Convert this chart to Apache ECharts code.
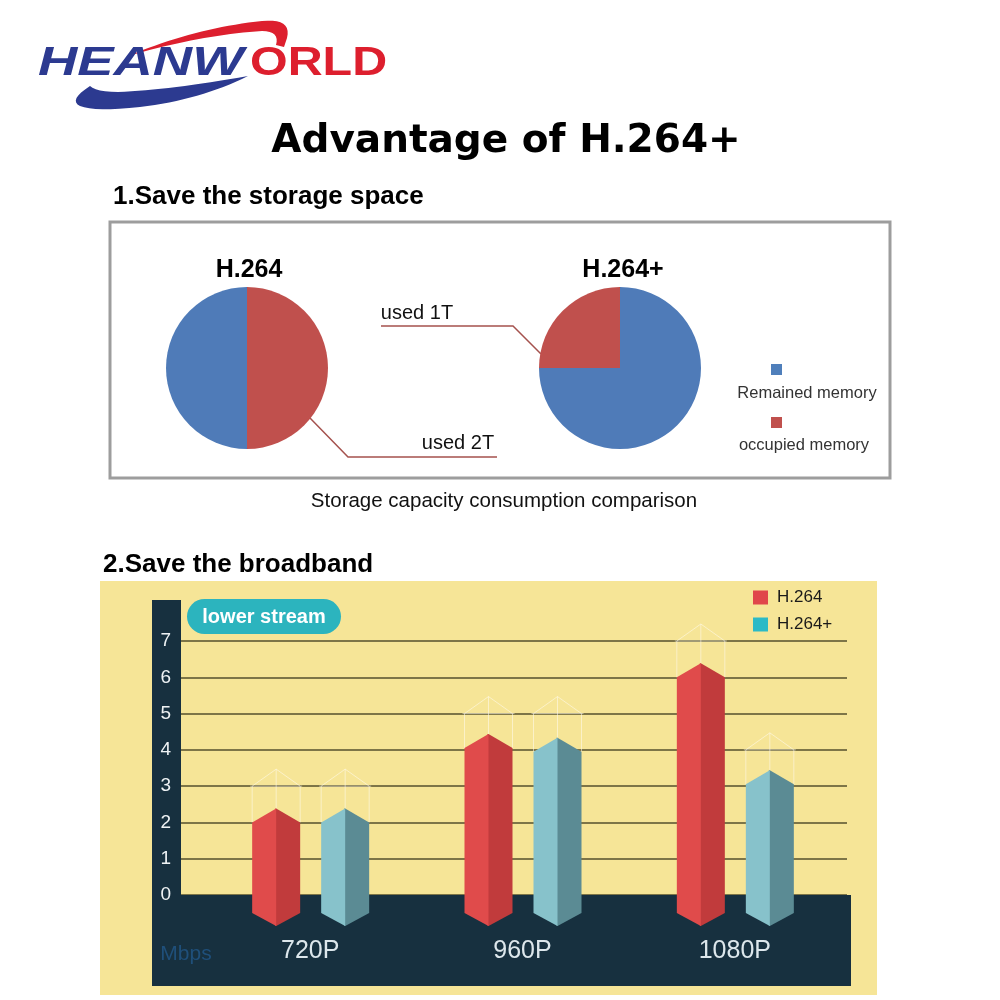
<!DOCTYPE html>
<html>
<head>
<meta charset="utf-8">
<script src="https://cdn.jsdelivr.net/npm/echarts@6/dist/echarts.min.js"></script>
<style>
  html, body { margin: 0; padding: 0; background: #ffffff; }
  #chart { width: 1000px; height: 1000px; }
</style>
</head>
<body>
<div id="chart"></div>
<script>
// ---------- data ----------
const pieNames = ['occupied memory', 'Remained memory'];
const pieH264 = [2, 2];          // TB used / remaining with H.264
const pieH264Plus = [1, 3];      // TB used / remaining with H.264+
const pieLabels = ['used 2T', 'used 1T'];
const pieTitles = ['H.264', 'H.264+'];

const categories = ['720P', '960P', '1080P'];
const seriesNames = ['H.264', 'H.264+'];
const h264Mbps = [2.0, 4.05, 6.0];
const h264PlusMbps = [2.0, 3.95, 3.05];
const h264Ghost = [3, 5, 7];
const h264PlusGhost = [3, 5, 4];
const yMin = 0, yMax = 7, yStep = 1;

// ---------- styles ----------
const FONT = '"Liberation Sans", Arial, sans-serif';
const PIE_RED = '#c0504d';
const PIE_BLUE = '#4f7bb8';
const LEG_RED = '#e0474a';
const LEG_CYAN = '#2cbac6';

// sample a quadratic curve (logo decoration only)
function quad(p0, p1, p2, n) {
  const pts = [];
  for (let i = 0; i <= n; i++) {
    const t = i / n, u = 1 - t;
    pts.push([u * u * p0[0] + 2 * u * t * p1[0] + t * t * p2[0],
              u * u * p0[1] + 2 * u * t * p1[1] + t * t * p2[1]]);
  }
  return pts;
}
const redSwoosh = [].concat(
  quad([128, 56], [195, 28], [262, 21], 20),
  quad([262, 21], [292, 18], [287, 38], 10),
  [[284, 47], [276, 45]],
  quad([276, 45], [280, 31], [262, 31], 8),
  quad([262, 31], [200, 35], [128, 56], 20)
);
const blueSwoosh = [].concat(
  quad([248, 76], [170, 90], [118, 92], 16),
  quad([118, 92], [96, 92], [90, 86], 6),
  quad([90, 86], [68, 100], [80, 106], 8),
  quad([80, 106], [95, 112], [140, 107], 8),
  quad([140, 107], [200, 100], [248, 76], 16)
);

function prism(offset, leftCol, rightCol) {
  return function (params, api) {
    const idx = api.value(0), v = api.value(1), g = api.value(2);
    const c = api.coord([idx, v]);
    const c0 = api.coord([idx, 0]);
    const cg = api.coord([idx, g]);
    const hw = 24;
    const xc = c[0] + offset, xl = xc - hw, xr = xc + hw;
    const yT = c[1], yA = yT - 14;
    const yBs = c0[1] + 18, yBa = c0[1] + 31;
    const gS = cg[1], gA = gS - 17;
    const gst = { stroke: 'rgba(255,252,240,0.55)', lineWidth: 1, fill: null };
    return {
      type: 'group',
      children: [
        { type: 'polyline', shape: { points: [[xl, gS], [xc, gA], [xr, gS]] }, style: gst },
        { type: 'line', shape: { x1: xl - 2, y1: gS, x2: xr + 2, y2: gS }, style: gst },
        { type: 'line', shape: { x1: xl, y1: gS, x2: xl, y2: yT }, style: gst },
        { type: 'line', shape: { x1: xc, y1: gA, x2: xc, y2: yA }, style: gst },
        { type: 'line', shape: { x1: xr, y1: gS, x2: xr, y2: yT }, style: gst },
        { type: 'polygon', shape: { points: [[xc - 1, yA], [xc, yA], [xr, yT], [xr, yBs], [xc, yBa], [xc - 1, yBa]] }, style: { fill: rightCol } },
        { type: 'polygon', shape: { points: [[xl, yT], [xc, yA], [xc, yBa], [xl, yBs]] }, style: { fill: leftCol } }
      ]
    };
  };
}

function pieData(vals, labelText) {
  return vals.map((v, i) => ({
    name: pieNames[i],
    value: v,
    itemStyle: { color: i === 0 ? PIE_RED : PIE_BLUE },
    label: { show: i === 0, formatter: labelText },
    labelLine: { show: i === 0 }
  }));
}

function txt(x, y, text, font, fill, align, extra) {
  return Object.assign({
    type: 'text', z: 6, x: x, y: y,
    style: { text: text, font: font, fill: fill, align: align || 'center', verticalAlign: 'middle' }
  }, extra || {});
}

const chart = echarts.init(document.getElementById('chart'), null, { renderer: 'canvas' });

const option = {
  backgroundColor: '#ffffff',
  animation: false,
  legend: {
    data: [
      { name: seriesNames[0], itemStyle: { color: LEG_RED } },
      { name: seriesNames[1], itemStyle: { color: LEG_CYAN } }
    ],
    orient: 'vertical',
    left: 753, top: 589,
    itemWidth: 15, itemHeight: 14, itemGap: 10,
    icon: 'rect',
    padding: 0,
    z: 6,
    selectedMode: false,
    textStyle: { fontSize: 17, color: '#1a1a1a', fontFamily: FONT, padding: [0, 0, 0, 4] }
  },
  grid: [
    { left: 181, right: 153, top: 641, bottom: 105 },
    { left: 204, right: 159, top: 641, bottom: 105 }
  ],
  xAxis: [
    { type: 'value', gridIndex: 0, show: false, min: 0, max: 1 },
    {
      type: 'category', gridIndex: 1, data: categories, z: 5,
      axisLine: { show: false }, axisTick: { show: false }, splitLine: { show: false },
      axisLabel: { color: '#dde7ec', fontSize: 25, fontFamily: FONT, margin: 44 }
    }
  ],
  yAxis: [
    {
      type: 'value', gridIndex: 0, min: yMin, max: yMax, interval: yStep, z: 1,
      axisLine: { show: false }, axisTick: { show: false }, axisLabel: { show: false },
      splitLine: { show: true, lineStyle: { color: '#554f2c', width: 1.5 } }
    },
    {
      type: 'value', gridIndex: 0, position: 'left', min: yMin, max: yMax, interval: yStep, z: 5,
      axisLine: { show: false }, axisTick: { show: false }, splitLine: { show: false },
      axisLabel: { color: '#eef2f4', fontSize: 19, fontFamily: FONT, margin: 10 },
      name: 'Mbps', nameLocation: 'start', nameGap: 49,
      nameTextStyle: { color: '#1f4f7a', fontSize: 21, fontFamily: FONT, padding: [0, 0, 0, 10] }
    },
    { type: 'value', gridIndex: 1, min: yMin, max: yMax, show: false }
  ],
  series: [
    {
      type: 'pie', name: pieTitles[0], center: [247, 368], radius: 81,
      startAngle: 90, clockwise: true, silent: true, z: 2,
      data: pieData(pieH264, pieLabels[0]),
      itemStyle: { borderWidth: 0 },
      label: { color: '#111', fontSize: 20, fontFamily: FONT },
      labelLine: { lineStyle: { color: '#a5524e', width: 1.5 } },
      labelLayout: function () {
        return { x: 458, y: 443, align: 'center', verticalAlign: 'middle',
          labelLinePoints: [[310, 418], [348, 457], [497, 457]] };
      },
      emphasis: { disabled: true }
    },
    {
      type: 'pie', name: pieTitles[1], center: [620, 368], radius: 81,
      startAngle: 90, clockwise: false, silent: true, z: 2,
      data: pieData(pieH264Plus, pieLabels[1]),
      itemStyle: { borderWidth: 0 },
      label: { color: '#111', fontSize: 20, fontFamily: FONT },
      labelLine: { lineStyle: { color: '#a5524e', width: 1.5 } },
      labelLayout: function () {
        return { x: 417, y: 313, align: 'center', verticalAlign: 'middle',
          labelLinePoints: [[541, 354], [513, 326], [381, 326]] };
      },
      emphasis: { disabled: true }
    },
    {
      type: 'custom', name: seriesNames[0], xAxisIndex: 1, yAxisIndex: 2, z: 3, clip: false,
      itemStyle: { color: LEG_RED },
      renderItem: prism(-34, '#e04b4b', '#c13b3c'),
      encode: { x: 0, y: 1 },
      data: h264Mbps.map((v, i) => [i, v, h264Ghost[i]])
    },
    {
      type: 'custom', name: seriesNames[1], xAxisIndex: 1, yAxisIndex: 2, z: 3, clip: false,
      itemStyle: { color: LEG_CYAN },
      renderItem: prism(35, '#87c2cb', '#5b8b94'),
      encode: { x: 0, y: 1 },
      data: h264PlusMbps.map((v, i) => [i, v, h264PlusGhost[i]])
    }
  ],
  graphic: {
    elements: [
      // broadband background
      { type: 'rect', z: 0, shape: { x: 100, y: 581, width: 777, height: 414 }, style: { fill: '#f6e597' } },
      { type: 'rect', z: 2, shape: { x: 152, y: 600, width: 29, height: 386 }, style: { fill: '#17303f' } },
      { type: 'rect', z: 2, shape: { x: 152, y: 895, width: 699, height: 91 }, style: { fill: '#17303f' } },
      { type: 'rect', z: 5, shape: { x: 187, y: 599, width: 154, height: 35, r: 17.5 }, style: { fill: '#2cb4be' } },
      txt(264, 617, 'lower stream', 'bold 20px ' + FONT, '#ffffff'),
      // logo
      { type: 'polygon', z: 1, shape: { points: redSwoosh }, style: { fill: '#dd1f2e' } },
      { type: 'polygon', z: 1, shape: { points: blueSwoosh }, style: { fill: '#2c3a90' } },
      txt(38, 64, 'HEANW', 'italic bold 40px ' + FONT, '#2c3a90', 'left', { scaleX: 1.36 }),
      txt(250, 64, 'ORLD', 'bold 40px ' + FONT, '#dd1f2e', 'left', { scaleX: 1.21 }),
      // title & headings
      txt(506, 142, 'Advantage of H.264+', 'bold 39px "DejaVu Sans", sans-serif', '#000'),
      txt(113, 197, '1.Save the storage space', 'bold 26px ' + FONT, '#000', 'left'),
      txt(103, 565, '2.Save the broadband', 'bold 26px ' + FONT, '#000', 'left'),
      // storage box
      { type: 'rect', z: 1, shape: { x: 110, y: 222, width: 780, height: 256 }, style: { fill: null, stroke: '#9d9d9d', lineWidth: 3 } },
      txt(249, 270, pieTitles[0], 'bold 25px ' + FONT, '#000'),
      txt(623, 270, pieTitles[1], 'bold 25px ' + FONT, '#000'),
      { type: 'rect', z: 2, shape: { x: 771, y: 364, width: 11, height: 11 }, style: { fill: '#4f7fbb' } },
      txt(807, 393, pieNames[1], '16.5px ' + FONT, '#333'),
      { type: 'rect', z: 2, shape: { x: 771, y: 417, width: 11, height: 11 }, style: { fill: '#c0504d' } },
      txt(804, 445, pieNames[0], '16.5px ' + FONT, '#333'),
      txt(504, 501, 'Storage capacity consumption comparison', '20.5px ' + FONT, '#111')
    ]
  }
};

chart.setOption(option);
</script>
</body>
</html>
